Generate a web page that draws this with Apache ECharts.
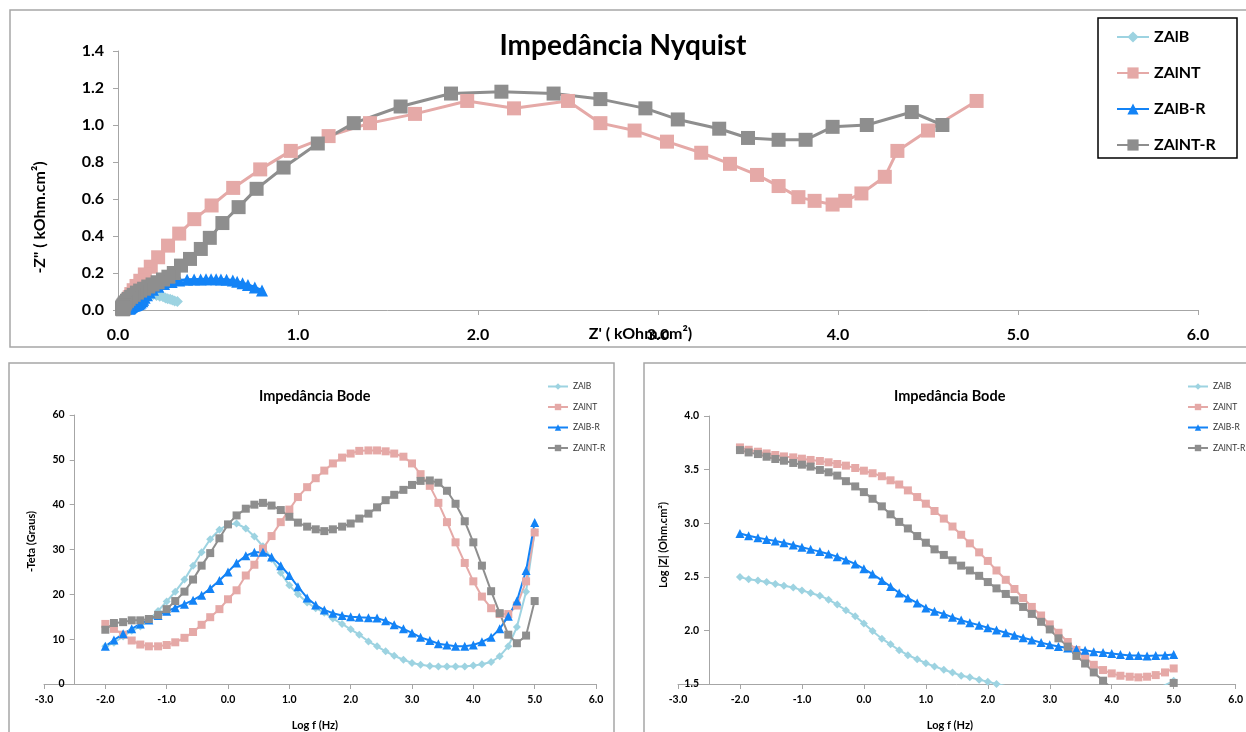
<!DOCTYPE html>
<html><head><meta charset="utf-8">
<script src="https://cdn.jsdelivr.net/npm/echarts@6/dist/echarts.min.js"></script>
<style>html,body{margin:0;padding:0;background:#fff}#c{width:1246px;height:732px}</style>
</head><body><div id="c"></div>
<script>
// ---------- DATA ----------
const seriesNames = ['ZAlB', 'ZAlNT', 'ZAlB-R', 'ZAlNT-R'];

// Log f (Hz) for Bode plots
const logF = [-2.00,-1.86,-1.71,-1.57,-1.43,-1.29,-1.14,-1.00,-0.86,-0.71,-0.57,-0.43,-0.29,-0.14,
  0.00,0.14,0.29,0.43,0.57,0.71,0.86,1.00,1.14,1.29,1.43,1.57,1.71,1.86,2.00,2.14,2.29,2.43,2.57,2.71,2.86,
  3.00,3.14,3.29,3.43,3.57,3.71,3.86,4.00,4.14,4.29,4.43,4.57,4.71,4.86,5.00];

// -Teta (Graus)
const phaseZAlB = [8.4,9.2,10.6,11.9,12.8,14.3,16.3,18.4,20.6,23.3,26.4,29.4,32.3,34.4,35.6,35.8,34.7,32.9,30.7,27.9,24.8,22.0,20.0,18.2,16.9,15.9,
  14.6,13.4,12.2,11.0,9.5,8.4,7.3,6.3,5.4,4.7,4.3,4.0,3.9,3.9,3.9,3.9,4.1,4.4,4.9,6.2,8.4,12.7,20.6,34.0];
const phaseZAlNT = [13.4,12.3,11.0,9.7,8.8,8.4,8.4,8.7,9.3,10.3,11.6,13.2,14.9,16.7,18.9,20.9,24.2,26.6,30.2,33.0,36.1,38.9,41.7,43.9,45.9,47.6,
  49.2,50.5,51.4,52.0,52.1,52.1,51.9,51.4,50.7,49.2,46.8,44.2,40.4,36.1,31.6,27.0,22.9,19.5,16.9,15.6,15.6,17.5,22.9,33.8];
const phaseZAlBR = [8.4,9.8,11.2,12.3,13.4,14.3,15.3,16.2,17.0,17.8,18.7,19.8,21.3,23.1,25.0,27.0,28.6,29.4,29.4,28.3,26.4,24.2,21.7,19.2,17.6,16.5,
  15.8,15.3,15.0,14.9,14.8,14.7,14.1,13.2,12.3,11.4,10.4,9.7,9.0,8.7,8.4,8.4,8.7,9.4,10.4,12.3,15.1,18.5,25.3,36.0];
const phaseZAlNTR = [12.1,13.6,13.8,14.2,14.2,14.5,15.4,16.7,18.5,20.6,23.3,26.4,29.2,32.5,35.6,37.6,39.1,40.0,40.4,39.8,38.8,37.3,36.0,35.1,34.5,34.1,
  34.5,35.1,35.8,36.9,38.0,39.4,41.0,42.2,43.3,44.4,45.3,45.4,44.9,43.1,40.2,36.3,31.6,26.4,20.7,15.8,11.0,9.1,10.8,18.5];

// Log |Z| (Ohm.cm2)
const logZ_ZAlB = [2.497,2.478,2.466,2.451,2.432,2.417,2.401,2.373,2.349,2.324,2.287,2.241,2.188,2.133,2.065,1.994,1.923,1.870,1.815,1.769,1.731,1.694,1.664,1.633,1.608,1.577,
  1.562,1.540,1.522,1.500,1.480,1.460,1.440,1.430,1.420,1.410,1.400,1.395,1.390,1.385,1.380,1.380,1.380,1.385,1.390,1.400,1.420,1.450,1.490,1.530];
const logZ_ZAlNT = [3.707,3.685,3.667,3.651,3.636,3.623,3.614,3.602,3.590,3.580,3.568,3.552,3.537,3.515,3.490,3.466,3.438,3.400,3.361,3.306,3.244,3.182,3.114,3.043,2.969,2.892,
  2.812,2.728,2.648,2.559,2.472,2.386,2.302,2.219,2.139,2.056,1.978,1.892,1.818,1.747,1.679,1.630,1.599,1.577,1.568,1.562,1.568,1.583,1.608,1.645];
const logZ_ZAlBR = [2.904,2.883,2.864,2.849,2.833,2.818,2.796,2.775,2.756,2.735,2.713,2.688,2.657,2.620,2.574,2.525,2.466,2.410,2.349,2.302,2.256,2.210,2.179,2.154,2.122,2.096,
  2.071,2.049,2.025,2.003,1.978,1.954,1.932,1.910,1.886,1.867,1.849,1.836,1.824,1.815,1.802,1.793,1.784,1.775,1.765,1.765,1.762,1.765,1.768,1.775];
const logZ_ZAlNTR = [3.682,3.660,3.645,3.620,3.599,3.583,3.562,3.546,3.528,3.497,3.475,3.444,3.392,3.343,3.290,3.228,3.157,3.083,3.012,2.951,2.880,2.818,2.756,2.704,2.654,2.604,
  2.559,2.509,2.451,2.392,2.340,2.281,2.219,2.154,2.080,2.009,1.926,1.849,1.762,1.691,1.608,1.531,1.460,1.420,1.400,1.400,1.410,1.430,1.470,1.510];

// Nyquist: Z' and -Z'' (kOhm.cm2)
const zRe_ZAlB = [0.330,0.315,0.302,0.290,0.276,0.264,0.250,0.232,0.214,0.196,0.176,0.153,0.131,0.112,0.094,0.080,0.069,0.062,0.056,0.052,0.049,0.046,0.043,0.041,0.039,0.036,
  0.035,0.034,0.033,0.031,0.030,0.028,0.027,0.027,0.026,0.026,0.025,0.025,0.025,0.025,0.025,0.025,0.025,0.025,0.025,0.025,0.026,0.027,0.029,0.029];
const zIm_ZAlB = [0.046,0.049,0.054,0.058,0.061,0.065,0.071,0.075,0.079,0.084,0.086,0.085,0.082,0.077,0.068,0.058,0.048,0.040,0.033,0.027,0.023,0.019,0.016,0.013,0.012,0.010,
  0.0095,0.008,0.007,0.006,0.005,0.004,0.0035,0.003,0.0025,0.002,0.002,0.0017,0.0017,0.0017,0.0017,0.0017,0.0018,0.002,0.002,0.003,0.004,0.006,0.011,0.017];
const zRe_ZAlNT = [4.77,4.50,4.33,4.26,4.13,4.04,3.97,3.87,3.78,3.67,3.55,3.40,3.24,3.05,2.87,2.68,2.50,2.20,1.94,1.65,
  1.40,1.17,0.96,0.79,0.64,0.52,0.424,0.340,0.278,0.223,0.182,0.149,0.124,0.103,0.087,0.074,0.065,0.056,0.050,0.045,0.041,0.038,0.037,0.036,0.035,0.035,0.036,0.037,0.037,0.037];
const zIm_ZAlNT = [1.13,0.97,0.86,0.72,0.63,0.59,0.57,0.59,0.61,0.67,0.73,0.79,0.85,0.91,0.97,1.01,1.13,1.09,1.13,1.06,
  1.01,0.94,0.86,0.76,0.66,0.565,0.491,0.413,0.348,0.285,0.234,0.192,0.158,0.130,0.107,0.086,0.069,0.054,0.043,0.033,0.025,0.019,0.015,0.013,0.011,0.010,0.010,0.012,0.016,0.025];
const zRe_ZAlBR = [0.800,0.760,0.722,0.692,0.662,0.638,0.603,0.572,0.545,0.517,0.489,0.459,0.423,0.384,0.340,0.298,0.256,0.224,0.194,0.176,0.161,0.148,0.140,0.135,0.126,0.120,
  0.113,0.108,0.102,0.097,0.092,0.087,0.083,0.079,0.075,0.072,0.069,0.068,0.066,0.065,0.063,0.061,0.060,0.059,0.057,0.057,0.056,0.055,0.053,0.048];
const zIm_ZAlBR = [0.105,0.122,0.135,0.145,0.153,0.160,0.163,0.165,0.166,0.166,0.166,0.165,0.165,0.163,0.159,0.152,0.140,0.126,0.110,0.095,0.080,0.066,0.056,0.047,0.040,0.035,
  0.032,0.030,0.027,0.026,0.024,0.023,0.021,0.019,0.016,0.015,0.013,0.012,0.010,0.010,0.009,0.009,0.009,0.010,0.011,0.012,0.015,0.018,0.025,0.035];
const zRe_ZAlNTR = [4.58,4.41,4.16,3.97,3.82,3.67,3.50,3.34,3.11,2.93,2.68,2.42,2.13,1.85,1.57,
  1.31,1.11,0.92,0.77,0.67,0.58,0.51,0.46,0.40,0.35,0.31,0.280,0.250,0.220,0.192,0.168,0.145,0.123,0.105,0.087,0.073,0.059,0.050,0.041,0.036,0.031,0.027,0.025,0.024,0.023,0.024,0.025,0.027,0.029,0.031];
const zIm_ZAlNTR = [1.00,1.07,1.00,0.99,0.92,0.92,0.93,0.98,1.03,1.09,1.14,1.17,1.18,1.17,1.10,
  1.01,0.90,0.77,0.655,0.556,0.47,0.39,0.33,0.276,0.24,0.20,0.180,0.165,0.150,0.138,0.127,0.115,0.105,0.094,0.082,0.071,0.060,0.050,0.041,0.034,0.026,0.020,0.015,0.012,0.009,0.007,0.005,0.004,0.006,0.010];

// ---------- STYLE ----------
const F = 'Lato';
const COLORS = ['#9DD3E1', '#E5A9A7', '#1383F6', '#8E8E8E'];
const SYMBOLS = ['diamond', 'rect', 'triangle', 'rect'];
const SIZE_NYQ = [11, 14, 12, 14];
const SIZE_BODE = [8, 8, 9, 8];
const AX = '#A6A6A6';

function zip(a, b) { return a.map((v, i) => [v, b[i]]); }

function mkSeries(k, axisIdx, data, sizes, lw) {
  return {
    name: seriesNames[k], type: 'line', xAxisIndex: axisIdx, yAxisIndex: axisIdx,
    data: data, symbol: SYMBOLS[k], symbolSize: sizes[k], showSymbol: true, showAllSymbol: true,
    clip: true, lineStyle: { color: COLORS[k], width: lw }, itemStyle: { color: COLORS[k], borderWidth: 0 },
    emphasis: { disabled: true }, animation: false
  };
}

function valAxis(o) {
  return Object.assign({
    type: 'value', splitLine: { show: false }, nameMoveOverlap: false,
    axisLine: { show: true, onZero: false, lineStyle: { color: AX, width: 1 } },
    axisTick: { show: true, length: 5, lineStyle: { color: AX, width: 1 } }
  }, o);
}

const nyq = [zip(zRe_ZAlB, zIm_ZAlB), zip(zRe_ZAlNT, zIm_ZAlNT), zip(zRe_ZAlBR, zIm_ZAlBR), zip(zRe_ZAlNTR, zIm_ZAlNTR)];
const ph = [phaseZAlB, phaseZAlNT, phaseZAlBR, phaseZAlNTR].map(a => zip(logF, a));
const mz = [logZ_ZAlB, logZ_ZAlNT, logZ_ZAlBR, logZ_ZAlNTR].map(a => zip(logF, a));

const series = [];
for (let k = 0; k < 4; k++) series.push(mkSeries(k, 0, nyq[k], SIZE_NYQ, 3));
for (let k = 0; k < 4; k++) series.push(mkSeries(k, 1, ph[k], SIZE_BODE, 2));
for (let k = 0; k < 4; k++) series.push(mkSeries(k, 2, mz[k], SIZE_BODE, 2));

const bigLbl = { fontFamily: F, fontWeight: 'bold', fontSize: 16, color: '#000' };
const smallLbl = { fontFamily: F, fontWeight: 'bold', fontSize: 10.5, color: '#000' };
const smallName = { fontFamily: F, fontWeight: 'bold', fontSize: 11, color: '#000' };
const fmt1 = v => v.toFixed(1);

const option = {
  animation: false,
  backgroundColor: '#fff',
  textStyle: { fontFamily: F },
  title: [
    { text: 'Impedância Nyquist', left: 'center', top: 27, textStyle: { fontFamily: F, fontWeight: 'bold', fontSize: 28, color: '#000' } },
    { text: 'Impedância Bode', left: 254, top: 384, textStyle: { fontFamily: F, fontWeight: 'bold', fontSize: 14.5, color: '#000' } },
    { text: 'Impedância Bode', left: 889, top: 384, textStyle: { fontFamily: F, fontWeight: 'bold', fontSize: 14.5, color: '#000' } }
  ],
  legend: [
    { data: seriesNames, orient: 'vertical', left: 1111, top: 24, itemWidth: 32, itemHeight: 14, itemGap: 20,
      textStyle: { fontFamily: F, fontWeight: 'bold', fontSize: 16, color: '#000' }, selectedMode: false },
    { data: seriesNames, orient: 'vertical', left: 542, top: 377, itemWidth: 20, itemHeight: 8, itemGap: 11.5,
      lineStyle: { width: 2 }, textStyle: { fontFamily: F, fontSize: 8.5, color: '#333' }, selectedMode: false },
    { data: seriesNames, orient: 'vertical', left: 1182, top: 377, itemWidth: 20, itemHeight: 8, itemGap: 11.5,
      lineStyle: { width: 2 }, textStyle: { fontFamily: F, fontSize: 8.5, color: '#333' }, selectedMode: false }
  ],
  grid: [
    { left: 118, top: 51, width: 1080, height: 259, containLabel: false },
    { left: 44, top: 415, width: 552, height: 271, containLabel: false },
    { left: 678, top: 416, width: 558, height: 269, containLabel: false }
  ],
  xAxis: [
    valAxis({ gridIndex: 0, min: 0, max: 6, interval: 1,
      axisLabel: Object.assign({ formatter: fmt1, margin: 17 }, bigLbl),
      name: "Z' ( kOhm.cm²)", nameLocation: 'middle', nameGap: 16,
      nameTextStyle: Object.assign({ padding: [0, 35, 0, 0] }, bigLbl) }),
    valAxis({ gridIndex: 1, min: -3, max: 6, interval: 1,
      axisLabel: Object.assign({ formatter: fmt1, margin: 10 }, smallLbl),
      name: 'Log f (Hz)', nameLocation: 'middle', nameGap: 36,
      nameTextStyle: Object.assign({ padding: [0, 10, 0, 0] }, smallName) }),
    valAxis({ gridIndex: 2, min: -3, max: 6, interval: 1,
      axisLabel: Object.assign({ formatter: fmt1, margin: 10 }, smallLbl),
      name: 'Log f (Hz)', nameLocation: 'middle', nameGap: 36,
      nameTextStyle: Object.assign({ padding: [0, 14, 0, 0] }, smallName) })
  ],
  yAxis: [
    valAxis({ gridIndex: 0, min: 0, max: 1.4, interval: 0.2,
      axisLabel: Object.assign({ formatter: fmt1, margin: 14 }, bigLbl),
      name: '-Z" ( kOhm.cm²)', nameLocation: 'middle', nameGap: 70, nameRotate: 90,
      nameTextStyle: Object.assign({ padding: [0, 74, 0, 0] }, bigLbl) }),
    valAxis({ gridIndex: 1, min: 0, max: 60, interval: 10, offset: -30.7,
      axisLabel: Object.assign({ margin: 10 }, smallLbl),
      name: '-Teta (Graus)', nameLocation: 'middle', nameGap: 38, nameRotate: 90,
      nameTextStyle: Object.assign({ padding: [0, 0, 0, 16] }, smallName) }),
    valAxis({ gridIndex: 2, min: 1.5, max: 4.0, interval: 0.5, offset: -31,
      axisLabel: Object.assign({ formatter: fmt1, margin: 10 }, smallLbl),
      name: 'Log |Z| (Ohm.cm²)', nameLocation: 'middle', nameGap: 40, nameRotate: 90,
      nameTextStyle: Object.assign({ padding: [0, 0, 0, 10] }, smallName) })
  ],
  graphic: [
    { type: 'rect', silent: true, shape: { x: 10, y: 10, width: 1245, height: 337 }, style: { fill: 'none', stroke: AX, lineWidth: 1.5 } },
    { type: 'rect', silent: true, shape: { x: 9, y: 363, width: 605, height: 390 }, style: { fill: 'none', stroke: AX, lineWidth: 1.5 } },
    { type: 'rect', silent: true, shape: { x: 644, y: 363, width: 620, height: 390 }, style: { fill: 'none', stroke: AX, lineWidth: 1.5 } },
    { type: 'rect', silent: true, shape: { x: 1098, y: 18, width: 139, height: 140 }, style: { fill: 'none', stroke: '#000', lineWidth: 1.5 } }
  ],
  series: series
};

const chart = echarts.init(document.getElementById('c'), null, { renderer: 'canvas' });
chart.setOption(option);
</script>
</body></html>
